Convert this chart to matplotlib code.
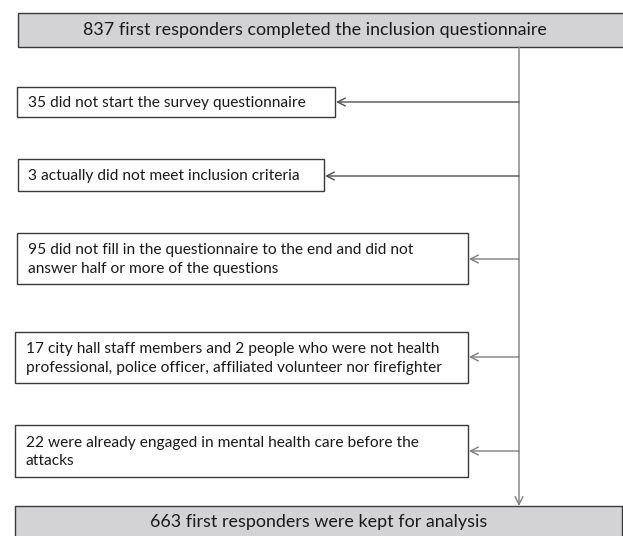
import matplotlib
matplotlib.use("Agg")
import matplotlib.pyplot as plt
from matplotlib.patches import Rectangle

top_label = "837 first responders completed the inclusion questionnaire"
bottom_label = "663 first responders were kept for analysis"
exclusion_labels = [
    "35 did not start the survey questionnaire",
    "3 actually did not meet inclusion criteria",
    "95 did not fill in the questionnaire to the end and did not\nanswer half or more of the questions",
    "17 city hall staff members and 2 people who were not health\nprofessional, police officer, affiliated volunteer nor firefighter",
    "22 were already engaged in mental health care before the\nattacks",
]

W, H = 623, 536
fig = plt.figure(figsize=(W / 100, H / 100), dpi=100)
ax = fig.add_axes([0, 0, 1, 1])
ax.set_xlim(0, W)
ax.set_ylim(H, 0)
ax.axis("off")

FONT = "Lato"
gray = "#d3d3d5"
edge = "#3a3a3a"
linec = "#7f7f7f"
txtc = "#1a1a1a"

# top box
ax.add_patch(Rectangle((18, 13), 620, 34, facecolor=gray, edgecolor=edge, lw=1.0))
ax.text(315, 30, top_label, ha="center", va="center", fontsize=12.9, family=FONT, color=txtc)

# bottom box
ax.add_patch(Rectangle((15, 506), 607, 40, facecolor=gray, edgecolor=edge, lw=1.0))
ax.text(319, 522, bottom_label, ha="center", va="center", fontsize=12.9, family=FONT, color=txtc)

main_x = 519
ax.annotate("", xy=(main_x, 506), xytext=(main_x, 47),
            arrowprops=dict(arrowstyle="->", color=linec, lw=1.0, mutation_scale=14, shrinkA=0, shrinkB=0))

boxes = [(17, 87, 318, 30), (18, 159, 306, 32), (17, 233, 451, 51), (15, 332, 453, 51), (15, 425, 453, 52)]
arrow_y = [102, 176, 259, 357, 451]
arrow_c = ["#505050", "#505050", linec, linec, linec]
for (x, y, w, h), ay, ac, lab in zip(boxes, arrow_y, arrow_c, exclusion_labels):
    ax.add_patch(Rectangle((x, y), w, h, facecolor="white", edgecolor=edge, lw=1.0))
    ax.text(x + 10.5, y + h / 2 + 1, lab, ha="left", va="center", fontsize=11.2, family=FONT,
            color=txtc, linespacing=1.42)
    ax.annotate("", xy=(x + w + 1, ay), xytext=(main_x, ay),
                arrowprops=dict(arrowstyle="->", color=ac, lw=1.0, mutation_scale=14, shrinkA=0, shrinkB=0))

fig.savefig("out.png", dpi=100)
